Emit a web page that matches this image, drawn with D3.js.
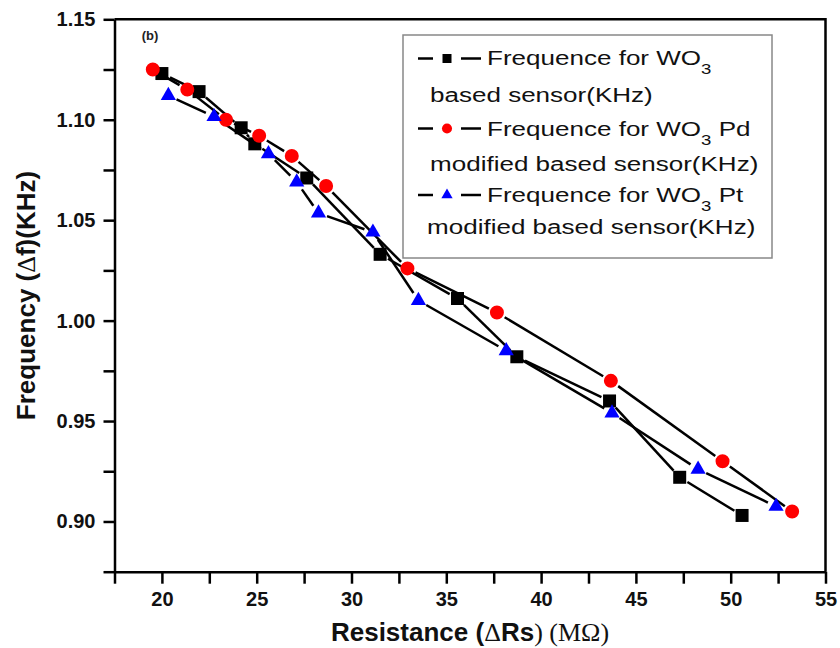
<!DOCTYPE html>
<html>
<head>
<meta charset="utf-8">
<script src="https://cdn.jsdelivr.net/npm/d3@7"></script>
<style>
  body { margin: 0; background: #fff; }
  svg { display: block; }
</style>
</head>
<body>
<svg id="chart" width="840" height="648"></svg>
<script>
// data: resistance (MOhm) vs frequency (KHz)
var resistanceWO3 = [20.0, 21.96, 24.18, 24.9, 27.64, 31.51, 35.59, 38.72, 43.61, 47.31, 50.6];
var freqWO3 = [1.123, 1.114, 1.096, 1.088, 1.071, 1.033, 1.011, 0.982, 0.960, 0.922, 0.903];
var resistancePd = [19.52, 21.34, 23.38, 25.13, 26.85, 28.66, 32.95, 37.67, 43.68, 49.57, 53.24];
var freqPd = [1.125, 1.115, 1.100, 1.092, 1.082, 1.067, 1.026, 1.004, 0.970, 0.930, 0.905];
var resistancePt = [20.34, 22.75, 25.62, 27.11, 28.26, 31.13, 33.53, 38.16, 43.74, 48.28, 52.39];
var freqPt = [1.112, 1.1015, 1.083, 1.069, 1.0535, 1.044, 1.010, 0.985, 0.954, 0.926, 0.9075];

var xTicks = [17.5, 20, 22.5, 25, 27.5, 30, 32.5, 35, 37.5, 40, 42.5, 45, 47.5, 50, 52.5, 55];
var xLabels = [20, 25, 30, 35, 40, 45, 50, 55];
var yTicks = [0.875, 0.9, 0.925, 0.95, 0.975, 1.0, 1.025, 1.05, 1.075, 1.1, 1.125, 1.15];
var yLabels = [0.9, 0.95, 1.0, 1.05, 1.1, 1.15];

var seriesNames = [
  ['Frequence for WO', '3', '', 'based sensor(KHz)'],
  ['Frequence for WO', '3', ' Pd', 'modified based sensor(KHz)'],
  ['Frequence for WO', '3', ' Pt', 'modified based sensor(KHz)']
];

var series = [
  {x: resistanceWO3, y: freqWO3, color: '#000', shape: d3.symbolSquare, size: 169, lsize: 81},
  {x: resistancePd, y: freqPd, color: '#ff0000', shape: d3.symbolCircle, size: 154, lsize: 80},
  {x: resistancePt, y: freqPt, color: '#0000ff', shape: d3.symbolTriangle, size: 100, lsize: 55}
];

var svg = d3.select('#chart');
var x = d3.scaleLinear().domain([17.5, 55]).range([114.5, 825.5]);
var y = d3.scaleLinear().domain([0.875, 1.15]).range([571.7, 19.3]);

var font = 'Liberation Sans, Arial, sans-serif';
var serif = 'Liberation Serif, Times New Roman, serif';

// frame (top and right)
svg.append('path')
  .attr('d', 'M' + x(17.5) + ',' + y(1.15) + 'H' + x(55) + 'V' + y(0.875))
  .attr('fill', 'none').attr('stroke', '#000').attr('stroke-width', 2.5);

var xAxis = svg.append('g')
  .attr('transform', 'translate(0,' + y(0.875) + ')')
  .call(d3.axisBottom(x).tickValues(xTicks).tickSize(12).tickSizeOuter(0)
    .tickFormat(function(d){ return xLabels.indexOf(d) >= 0 ? d : ''; }));
var yAxis = svg.append('g')
  .attr('transform', 'translate(' + x(17.5) + ',0)')
  .call(d3.axisLeft(y).tickValues(yTicks).tickSize(11).tickSizeOuter(0)
    .tickFormat(function(d){
      return yLabels.some(function(v){ return Math.abs(v - d) < 1e-9; }) ? d3.format('.2f')(d) : '';
    }));

[xAxis, yAxis].forEach(function(g){
  g.select('.domain').attr('stroke-width', 2.5);
  g.selectAll('.tick line').attr('stroke-width', 2.5);
  g.selectAll('.tick text').attr('font-family', font).attr('font-weight', 'bold')
    .attr('font-size', 20).attr('fill', '#111');
});
xAxis.selectAll('.tick text').attr('y', 20);
yAxis.selectAll('.tick text').attr('x', -19);

// lines with small gaps at each marker, Origin style
var gap = 9;
series.forEach(function(s){
  var pts = s.x.map(function(v, i){ return [x(v), y(s.y[i])]; });
  var segs = [];
  for (var i = 0; i < pts.length - 1; i++) {
    var a = pts[i], b = pts[i + 1];
    var dx = b[0] - a[0], dy = b[1] - a[1], len = Math.sqrt(dx * dx + dy * dy);
    if (len <= 2 * gap) continue;
    var ux = dx / len, uy = dy / len;
    segs.push([[a[0] + ux * gap, a[1] + uy * gap], [b[0] - ux * gap, b[1] - uy * gap]]);
  }
  svg.append('g').selectAll('line').data(segs).enter().append('line')
    .attr('x1', function(d){ return d[0][0]; }).attr('y1', function(d){ return d[0][1]; })
    .attr('x2', function(d){ return d[1][0]; }).attr('y2', function(d){ return d[1][1]; })
    .attr('stroke', '#000').attr('stroke-width', 2.5);
});

series.forEach(function(s){
  svg.append('g').selectAll('path').data(s.x).enter().append('path')
    .attr('d', d3.symbol().type(s.shape).size(s.size))
    .attr('transform', function(d, i){ return 'translate(' + x(d) + ',' + y(s.y[i]) + ')'; })
    .attr('fill', s.color);
});

// panel tag
svg.append('text').attr('x', 150).attr('y', 40).attr('text-anchor', 'middle')
  .attr('font-family', font).attr('font-weight', 'bold').attr('font-size', 13)
  .attr('fill', '#222').text('(b)');

// legend
var legend = svg.append('g');
legend.append('rect').attr('x', 403).attr('y', 35).attr('width', 369).attr('height', 223)
  .attr('fill', '#fff').attr('stroke', '#888').attr('stroke-width', 1.5);

var rowY = [58.5, 128.5, 195];
var textBase = [[65, 101.7], [136, 170.7], [201.7, 234]];
var secondX = [430, 430, 427];
var stretch = 1.24;

series.forEach(function(s, i){
  var g = legend.append('g');
  g.append('line').attr('x1', 418).attr('x2', 433).attr('y1', rowY[i]).attr('y2', rowY[i])
    .attr('stroke', '#000').attr('stroke-width', 2.5);
  g.append('line').attr('x1', 461).attr('x2', 481).attr('y1', rowY[i]).attr('y2', rowY[i])
    .attr('stroke', '#000').attr('stroke-width', 2.5);
  g.append('path').attr('d', d3.symbol().type(s.shape).size(s.lsize))
    .attr('transform', 'translate(447,' + rowY[i] + ')').attr('fill', s.color);

  var t = g.append('text')
    .attr('transform', 'translate(487,' + textBase[i][0] + ') scale(' + stretch + ',1)')
    .attr('font-family', font).attr('font-size', 21).attr('fill', '#111');
  t.append('tspan').text(seriesNames[i][0]);
  t.append('tspan').attr('font-size', 15).attr('dy', 9).text(seriesNames[i][1]);
  if (seriesNames[i][2]) t.append('tspan').attr('dy', -9).text(seriesNames[i][2]);

  g.append('text')
    .attr('transform', 'translate(' + secondX[i] + ',' + textBase[i][1] + ') scale(' + stretch + ',1)')
    .attr('font-family', font).attr('font-size', 21).attr('fill', '#111')
    .text(seriesNames[i][3]);
});

// axis titles
var xt = svg.append('text').attr('x', (x(17.5) + x(55)) / 2).attr('y', 641)
  .attr('text-anchor', 'middle').attr('font-family', font).attr('font-size', 26)
  .attr('font-weight', 'bold').attr('fill', '#111');
xt.append('tspan').text('Resistance (');
xt.append('tspan').attr('font-family', serif).attr('font-weight', 'normal').text('\u0394');
xt.append('tspan').text('Rs');
xt.append('tspan').attr('font-family', serif).attr('font-weight', 'normal').text(') (M\u03A9)');

var yt = svg.append('text')
  .attr('transform', 'translate(35,' + ((y(0.875) + y(1.15)) / 2) + ') rotate(-90)')
  .attr('text-anchor', 'middle').attr('font-family', font).attr('font-size', 26)
  .attr('font-weight', 'bold').attr('fill', '#111');
yt.append('tspan').text('Frequency (');
yt.append('tspan').attr('font-family', serif).attr('font-weight', 'normal').text('\u0394');
yt.append('tspan').text('f)(KHz)');
</script>
</body>
</html>
